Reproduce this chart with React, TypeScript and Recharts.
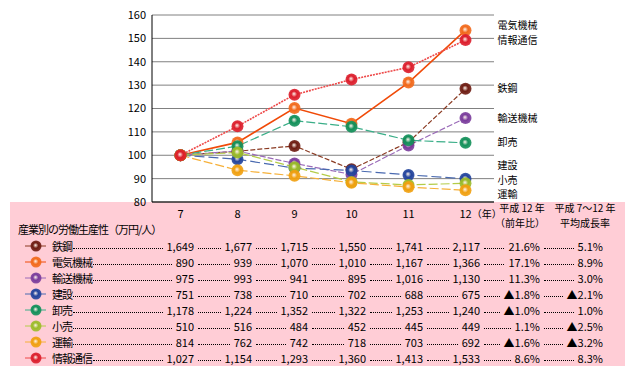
import { LineChart, Line, XAxis, YAxis, CartesianGrid } from "recharts"

const years = ["7", "8", "9", "10", "11", "12"]
const industries = ["鉄鋼", "電気機械", "輸送機械", "建設", "卸売", "小売", "運輸", "情報通信"]

// index (7 = 100)
const steelIdx = [100, 101.7, 104.0, 94.0, 105.6, 128.4]
const electricIdx = [100, 105.5, 120.2, 113.5, 131.1, 153.5]
const transportEqIdx = [100, 101.8, 96.5, 91.8, 104.2, 115.9]
const constructionIdx = [100, 98.3, 94.5, 93.5, 91.6, 89.9]
const wholesaleIdx = [100, 103.9, 114.8, 112.2, 106.4, 105.3]
const retailIdx = [100, 101.2, 94.9, 88.6, 87.3, 88.0]
const transportIdx = [100, 93.6, 91.2, 88.2, 86.4, 85.0]
const infoIdx = [100, 112.4, 125.9, 132.4, 137.6, 149.3]

// table (万円/人)
const steelVals = ["1,649", "1,677", "1,715", "1,550", "1,741", "2,117"]
const electricVals = ["890", "939", "1,070", "1,010", "1,167", "1,366"]
const transportEqVals = ["975", "993", "941", "895", "1,016", "1,130"]
const constructionVals = ["751", "738", "710", "702", "688", "675"]
const wholesaleVals = ["1,178", "1,224", "1,352", "1,322", "1,253", "1,240"]
const retailVals = ["510", "516", "484", "452", "445", "449"]
const transportVals = ["814", "762", "742", "718", "703", "692"]
const infoVals = ["1,027", "1,154", "1,293", "1,360", "1,413", "1,533"]
const yoyChange = ["21.6%", "17.1%", "11.3%", "▲1.8%", "▲1.0%", "1.1%", "▲1.6%", "8.6%"]
const avgGrowth = ["5.1%", "8.9%", "3.0%", "▲2.1%", "1.0%", "▲2.5%", "▲3.2%", "8.3%"]

const indexSeries = [steelIdx, electricIdx, transportEqIdx, constructionIdx, wholesaleIdx, retailIdx, transportIdx, infoIdx]
const tableVals = [steelVals, electricVals, transportEqVals, constructionVals, wholesaleVals, retailVals, transportVals, infoVals]

const styles = [
  { line: "#8a3a22", ball: "#6e1c12", dash: "5 2", width: 1.2, labelDy: 0 },
  { line: "#f04a08", ball: "#f26a1c", dash: undefined, width: 1.6, labelDy: -5 },
  { line: "#9a6ab8", ball: "#7a3c9c", dash: "6 2", width: 1.2, labelDy: 0 },
  { line: "#4a6ab0", ball: "#23449c", dash: "10 4", width: 1.2, labelDy: -13.5 },
  { line: "#3aae88", ball: "#13905a", dash: "9 3", width: 1.2, labelDy: 0 },
  { line: "#b4cc48", ball: "#9cbc2a", dash: "9 3", width: 1.2, labelDy: -3 },
  { line: "#f6b038", ball: "#f0a010", dash: "9 3", width: 1.2, labelDy: 4.5 },
  { line: "#ee4848", ball: "#dc1e2c", dash: "2 1", width: 1.6, labelDy: 0 },
]

const keys = industries.map((_, i) => `s${i}`)
const data = years.map((y, yi) => {
  const row: Record<string, string | number> = { year: y }
  indexSeries.forEach((s, i) => { row[keys[i]] = s[yi] })
  return row
})

const colRight = [194, 252, 308, 366, 423, 480, 540, 603]
const rowTop = 238
const rowH = 16
const font = "'Noto Sans CJK JP', 'Noto Sans', sans-serif"
const cjk = { letterSpacing: "-1px" }

function Gradient({ id, color }: { id: string; color: string }) {
  return (
    <radialGradient id={id} cx="50%" cy="50%" r="55%" fx="45%" fy="42%">
      <stop offset="0%" stopColor="#fff4ec" />
      <stop offset="45%" stopColor={color} />
      <stop offset="100%" stopColor={color} stopOpacity={0.85} />
    </radialGradient>
  )
}

function Filler({ left = 0 }: { left?: number }) {
  return <div style={{ flex: 1, height: 0, borderBottom: "1px dotted #000", marginLeft: left, marginRight: 4, marginTop: 5 }} />
}

function HeadLine({ text, top, center }: { text: string; top: number; center: number }) {
  return (
    <div style={{ position: "absolute", left: center - 40, top, width: 80, height: 13, lineHeight: "13px", fontSize: 10, textAlign: "center", whiteSpace: "nowrap" }}>
      {text}
    </div>
  )
}

export default function App() {
  const last = years.length - 1
  return (
    <div style={{ position: "relative", width: 635, height: 378, background: "#fff", fontFamily: font, fontSize: 11, color: "#000" }}>
      <style>{`body{margin:0}`}</style>
      <div style={{ position: "absolute", left: 10, top: 202, width: 615, height: 164, background: "#ffcdd6" }} />

      {/* table header */}
      <div style={{ position: "absolute", left: 18, top: 221, lineHeight: "16px", ...cjk }}>産業別の労働生産性（万円/人）</div>
      <HeadLine text="平成 12 年" top={201} center={522} />
      <HeadLine text="（前年比）" top={216} center={520} />
      <HeadLine text="平成 7～12 年" top={201} center={585} />
      <HeadLine text="平均成長率" top={216} center={585} />

      {industries.map((name, i) => {
        const top = rowTop + i * rowH
        const vals = [...tableVals[i], yoyChange[i], avgGrowth[i]]
        return (
          <div key={name}>
            <svg style={{ position: "absolute", left: 20, top }} width={32} height={rowH}>
              <defs>
                <Gradient id={`lg-${i}`} color={styles[i].ball} />
              </defs>
              <line x1={5} x2={26} y1={8} y2={8} stroke={styles[i].line} strokeWidth={1} />
              <circle cx={16} cy={8} r={5.5} fill={`url(#lg-${i})`} />
            </svg>
            {vals.map((v, c) => {
              const left = c === 0 ? 52 : colRight[c - 1] + 4
              const width = colRight[c] - left
              return (
                <div key={c} style={{ position: "absolute", left, top, width, height: rowH, lineHeight: `${rowH}px`, display: "flex", alignItems: "center", whiteSpace: "nowrap" }}>
                  {c === 0 && <span style={cjk}>{name}</span>}
                  <Filler left={c === 0 ? 1 : 0} />
                  <span>{v}</span>
                </div>
              )
            })}
          </div>
        )
      })}

      <div style={{ position: "absolute", left: 0, top: 0 }}>
        <LineChart width={635} height={230} data={data} margin={{ top: 15, right: 141, bottom: 0, left: 102 }} style={{ fontFamily: font }}>
          <defs>
            {styles.map((s, i) => (
              <Gradient key={i} id={`cb-${i}`} color={s.ball} />
            ))}
          </defs>
          <CartesianGrid vertical={false} stroke="#808080" strokeWidth={1} />
          <XAxis xAxisId="b" type="number" domain={[0, 6]} ticks={[1, 2, 3, 4, 5]} mirror tick={false} tickSize={5} axisLine={false} tickLine={{ stroke: "#000" }} height={0} />
          <XAxis
            dataKey="year"
            axisLine={{ stroke: "#000" }}
            tickLine={false}
            tickSize={6}
            tickMargin={2}
            height={28}
            interval={0}
            padding={{ left: 28.5, right: 28.5 }}
            tick={(p: any) => {
              const isLast = p.payload.value === years[last]
              return (
                <text x={isLast ? p.x - 6 : p.x} y={p.y} dy="0.71em" textAnchor={isLast ? "start" : "middle"} fontSize={11} fill="#000">
                  {p.payload.value}
                  {isLast && <tspan fontSize={10}>（年）</tspan>}
                </text>
              )
            }}
          />
          <XAxis xAxisId="t" dataKey="year" orientation="top" tick={false} tickLine={false} axisLine={{ stroke: "#000" }} height={0} />
          <YAxis domain={[80, 160]} ticks={[80, 90, 100, 110, 120, 130, 140, 150, 160]} width={50} tickLine={false} tickMargin={0} axisLine={{ stroke: "#000" }} tick={{ fontSize: 11, fill: "#000" }} />
          <YAxis yAxisId="r" orientation="right" domain={[80, 160]} tick={false} tickLine={false} axisLine={{ stroke: "#000" }} width={0} />
          {industries.map((name, i) => (
            <Line
              key={name}
              dataKey={keys[i]}
              name={name}
              type="linear"
              stroke={styles[i].line}
              strokeWidth={styles[i].width}
              strokeDasharray={styles[i].dash}
              isAnimationActive={false}
              dot={(p: any) => <circle key={`${keys[i]}-${p.index}`} cx={p.cx} cy={p.cy} r={6} fill={`url(#cb-${i})`} />}
              activeDot={false}
              label={(p: any) =>
                p.index === last ? (
                  <text key={`lb-${i}`} x={p.x + 32} y={p.y + styles[i].labelDy} dy="0.35em" fontSize={10} fill="#000">
                    {name}
                  </text>
                ) : null
              }
            />
          ))}
        </LineChart>
      </div>
    </div>
  )
}
